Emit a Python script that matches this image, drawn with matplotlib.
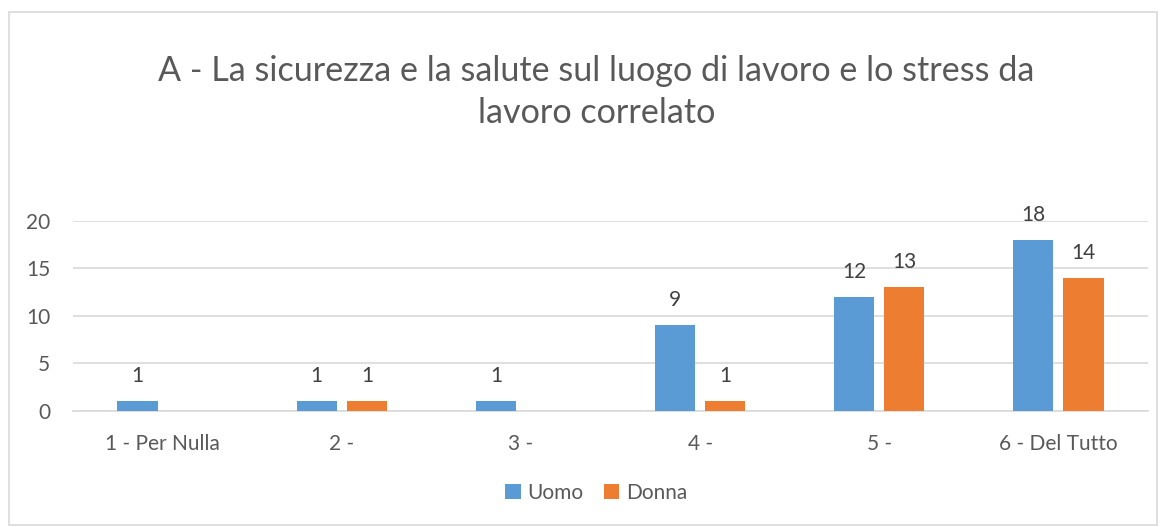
import numpy as np
import matplotlib.pyplot as plt
from matplotlib.patches import Rectangle

plt.rcParams['font.family'] = ['Lato', 'DejaVu Sans']

categories = ["1 - Per Nulla", "2 -", "3 -", "4 -", "5 -", "6 - Del Tutto"]
uomo = [1, 1, 1, 9, 12, 18]
donna = [None, 1, None, 1, 13, 14]

blue = "#5B9BD5"
orange = "#ED7D31"
text_col = "#595959"

fig = plt.figure(figsize=(11.64, 5.27), dpi=100)
fig.patches.append(Rectangle((9 / 1164, 0.004), 1148 / 1164, 1 - 12 / 527 - 0.004,
                             transform=fig.transFigure, fill=False,
                             edgecolor="#D9D9D9", linewidth=1.2))

ax = fig.add_axes([73 / 1164, 1 - 410.7 / 527, 1075 / 1164, 189.7 / 527])

x = np.arange(len(categories))
w = 0.225
off = 0.14
u_vals = [np.nan if v is None else v for v in uomo]
d_vals = [np.nan if v is None else v for v in donna]
ax.bar(x - off, u_vals, w, color=blue, label="Uomo", zorder=3)
ax.bar(x + off, d_vals, w, color=orange, label="Donna", zorder=3)

# value labels above each bar
for xs, vals in [(x - off, uomo), (x + off, donna)]:
    for xi, v in zip(xs, vals):
        if v is not None:
            ax.text(xi, v + 2.65, str(v), ha="center", va="center",
                    fontsize=15, color="#404040")

ax.set_xlim(-0.5, len(categories) - 0.5)
ax.set_ylim(0, 20)
ax.set_yticks([0, 5, 10, 15, 20])
ax.set_xticks(x)
ax.set_xticklabels(categories)
ax.yaxis.grid(True, color="#D9D9D9", linewidth=1.2, zorder=0)
ax.tick_params(length=0, labelsize=15, labelcolor=text_col)
ax.tick_params(axis="x", pad=17)
ax.tick_params(axis="y", pad=16.5)
for s in ["top", "right", "left"]:
    ax.spines[s].set_visible(False)
ax.spines["bottom"].set_color("#D9D9D9")
ax.spines["bottom"].set_linewidth(1.2)

fig.text(0.5125, 1 - 92 / 527, "A - La sicurezza e la salute sul luogo di lavoro e lo stress da\nlavoro correlato",
         ha="center", va="center", fontsize=24.6, color=text_col, linespacing=1.38)

fig.legend(loc="center", bbox_to_anchor=(0.512, 1 - 493 / 527), ncol=2, frameon=False,
           fontsize=15, labelcolor=text_col, handlelength=0.75, handleheight=0.75,
           handletextpad=0.3, columnspacing=1.0)

fig.savefig("out.png", dpi=100)
